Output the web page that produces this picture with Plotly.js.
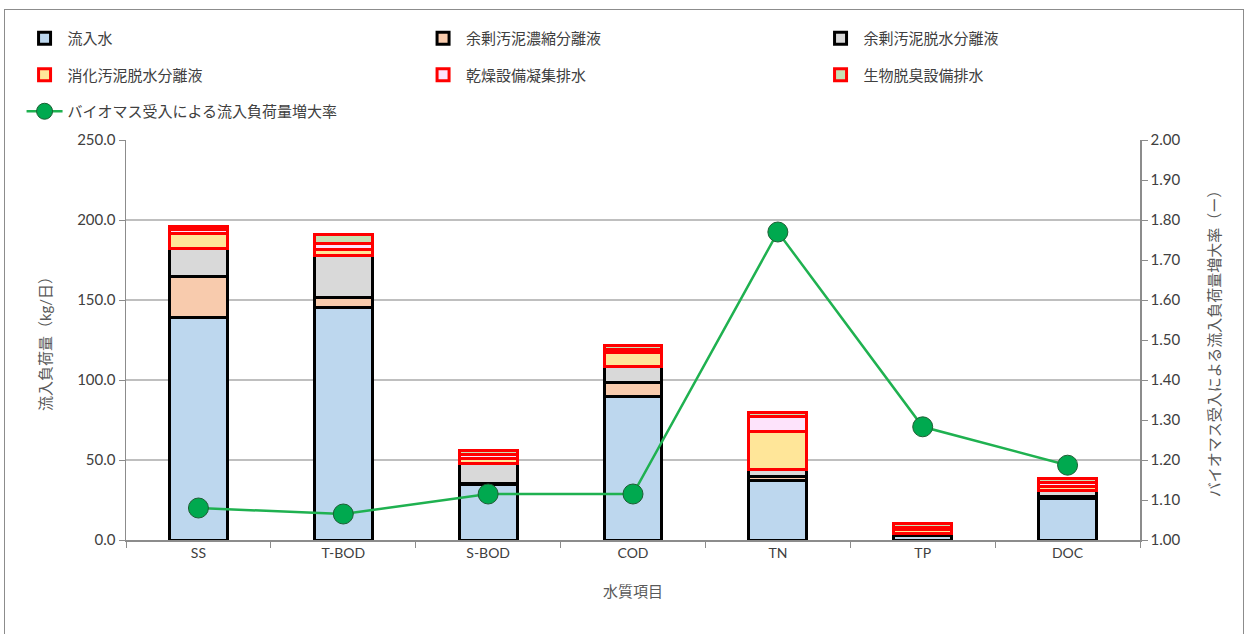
<!DOCTYPE html>
<html><head><meta charset="utf-8">
<script src="https://cdn.plot.ly/plotly-3.0.1.min.js"></script>
<style>
html,body{margin:0;padding:0;background:#fff;}
#frame{position:absolute;left:4px;top:9px;width:1240px;height:640px;border:1.5px solid #8c8c8c;box-sizing:border-box;}
#chart{position:absolute;left:0;top:0;width:1248px;height:634px;}
</style></head>
<body>
<div id="frame"></div>
<div id="chart"></div>
<script>
const categories = ["SS","T-BOD","S-BOD","COD","TN","TP","DOC"];
const seriesNames = ["流入水","余剰汚泥濃縮分離液","余剰汚泥脱水分離液","消化汚泥脱水分離液","乾燥設備凝集排水","生物脱臭設備排水"];
const inflow      = [139, 145.2, 34.4, 89.6, 37.5, 3.0, 26.0];
const thickening  = [25.7, 6.5, 1.0, 8.7, 2.0, 0.4, 1.0];
const dewatering  = [17.7, 26.4, 12.5, 10.0, 4.6, 0.6, 4.2];
const digestion   = [9.4, 3.2, 3.0, 8.8, 23.5, 2.5, 2.5];
const drying      = [2.0, 4.2, 2.5, 2.0, 9.8, 1.5, 2.1];
const deodor      = [2.3, 5.5, 2.8, 2.2, 2.2, 2.4, 2.7];
const lineName = "バイオマス受入による流入負荷量増大率";
const increaseRate = [1.08, 1.065, 1.115, 1.115, 1.77, 1.283, 1.187];

const fills = ["#bdd7ee","#f8cbad","#d9d9d9","#ffe699","#fde3fb","#c5e0b4"];
const borders = ["#000000","#000000","#000000","#ff0000","#ff0000","#ff0000"];
const seriesVals = [inflow, thickening, dewatering, digestion, drying, deodor];
// legend column for each series (3 columns like the reference)
const legendOf = ["legend","legend2","legend3","legend","legend2","legend3"];

const traces = seriesVals.map((vals, i) => ({
  type: "bar", x: categories, y: vals, name: seriesNames[i],
  marker: {color: fills[i], line: {color: borders[i], width: 3}},
  yaxis: "y", legend: legendOf[i], legendgroup: "g" + i
}));
traces.push({
  type: "scatter", mode: "lines+markers", x: categories, y: increaseRate, name: lineName,
  yaxis: "y2", legend: "legend", legendgroup: "gline",
  line: {color: "#1fb150", width: 2.5},
  marker: {size: 20, color: "#00a94f", line: {color: "#1d5e33", width: 1}}
});

const font = "Lato, 'Noto Sans CJK JP', sans-serif";
const legendBase = {orientation: "v", xanchor: "left", y: 1.295, yanchor: "top",
  traceorder: "grouped", tracegroupgap: 14, bgcolor: "rgba(0,0,0,0)", itemwidth: 36,
  font: {family: font, size: 15, color: "#404040"}};
const layout = {
  width: 1248, height: 634,
  margin: {l: 126, r: 108, t: 140, b: 94},
  paper_bgcolor: "rgba(0,0,0,0)", plot_bgcolor: "rgba(0,0,0,0)",
  barmode: "stack", bargap: 0.6,
  font: {family: font, size: 14, color: "#595959"},
  showlegend: true,
  legend:  Object.assign({}, legendBase, {x: -0.103}),
  legend2: Object.assign({}, legendBase, {x: 0.290}),
  legend3: Object.assign({}, legendBase, {x: 0.682}),
  xaxis: {title: {text: "水質項目", font: {size: 15, color: "#595959"}, standoff: 26},
          showline: true, linecolor: "#8c8c8c", linewidth: 1.5,
          ticks: "outside", tickson: "boundaries", ticklen: 6, tickcolor: "#8c8c8c",
          tickfont: {size: 14, color: "#404040"}, showgrid: false},
  yaxis: {title: {text: "流入負荷量（kg/日）", font: {size: 15, color: "#595959"}, standoff: 22},
          range: [0, 250], dtick: 50, tickformat: ".1f",
          showline: true, linecolor: "#8c8c8c", linewidth: 1.5,
          ticks: "outside", ticklen: 6, tickcolor: "#8c8c8c",
          gridcolor: "#bfbfbf", gridwidth: 1.2, zeroline: false,
          tickfont: {size: 15, color: "#404040"}},
  yaxis2: {title: {text: "バイオマス受入による流入負荷量増大率（ー）", font: {size: 15, color: "#595959"}, standoff: 30},
           overlaying: "y", side: "right", range: [1.0, 2.0], dtick: 0.1, tickformat: ".2f",
           showline: true, linecolor: "#8c8c8c", linewidth: 1.5,
           ticks: "outside", ticklen: 6, tickcolor: "#8c8c8c",
           showgrid: false, zeroline: false,
           tickfont: {size: 15, color: "#404040"}}
};
Plotly.newPlot("chart", traces, layout, {displayModeBar: false, staticPlot: true});
</script>
</body></html>
